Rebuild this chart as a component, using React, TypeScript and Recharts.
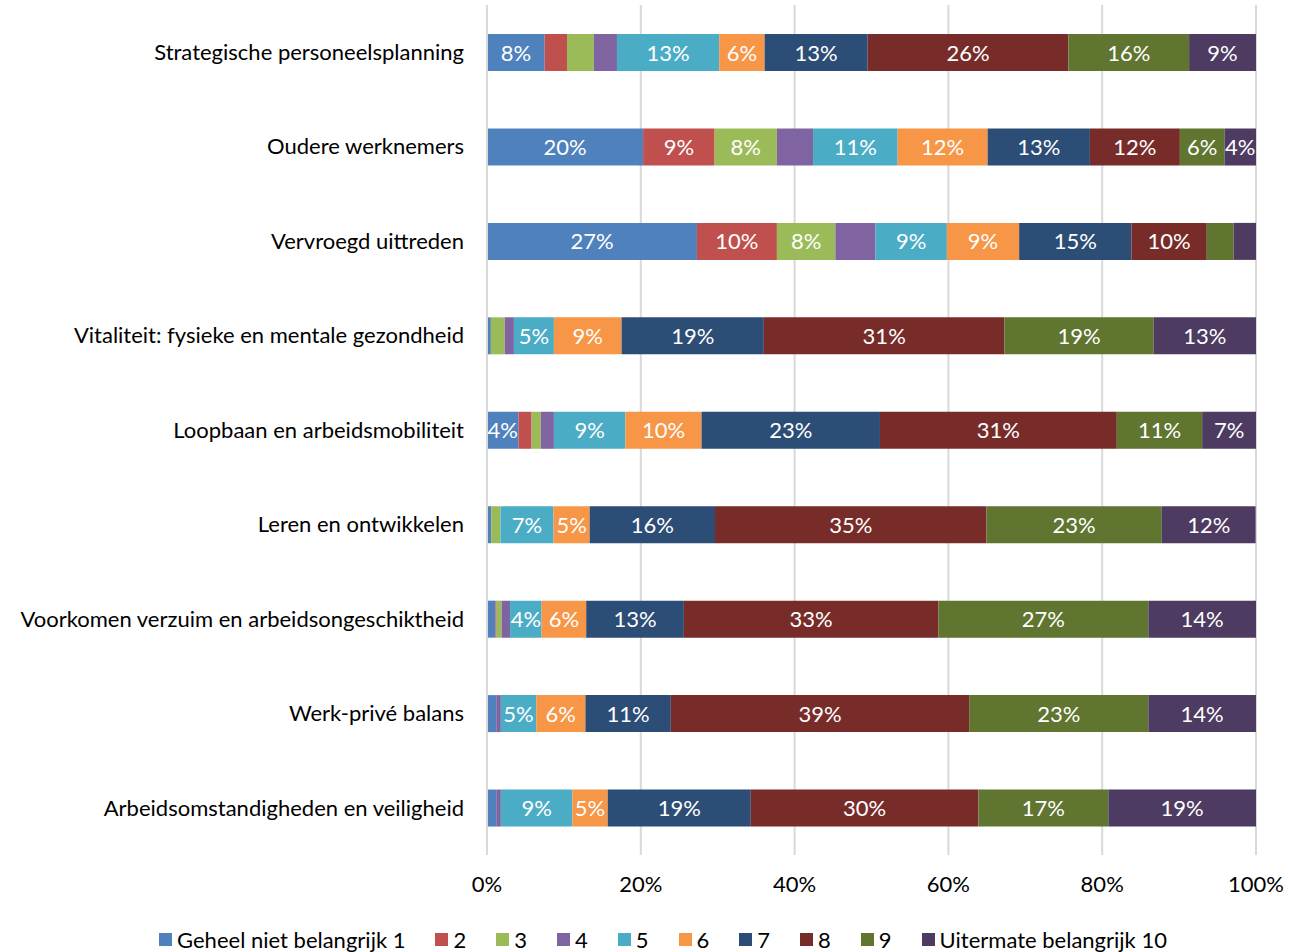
import React from 'react';
import {
  BarChart,
  Bar,
  XAxis,
  YAxis,
  CartesianGrid,
  Legend,
  LabelList,
} from 'recharts';

const categories = [
  'Strategische personeelsplanning',
  'Oudere werknemers',
  'Vervroegd uittreden',
  'Vitaliteit: fysieke en mentale gezondheid',
  'Loopbaan en arbeidsmobiliteit',
  'Leren en ontwikkelen',
  'Voorkomen verzuim en arbeidsongeschiktheid',
  'Werk-privé balans',
  'Arbeidsomstandigheden en veiligheid',
];

const seriesNames = [
  'Geheel niet belangrijk 1',
  '2',
  '3',
  '4',
  '5',
  '6',
  '7',
  '8',
  '9',
  'Uitermate belangrijk 10',
];

// percentages per category
const score1 = [7.5, 20.3, 27.3, 0.5, 4.1, 0.55, 1.1, 1.2, 1.2];
const score2 = [2.9, 9.3, 10.4, 0, 1.7, 0, 0.15, 0, 0];
const score3 = [3.5, 8.1, 7.6, 1.8, 1.2, 1.2, 0.65, 0, 0];
const score4 = [3.0, 4.7, 5.2, 1.2, 1.7, 0, 1.1, 0.6, 0.6];
const score5 = [13.3, 11.0, 9.3, 5.2, 9.3, 6.9, 4.1, 4.6, 9.3];
const score6 = [5.9, 11.7, 9.4, 8.8, 9.9, 4.7, 5.8, 6.4, 4.6];
const score7 = [13.4, 13.3, 14.6, 18.5, 23.2, 16.3, 12.7, 11.1, 18.6];
const score8 = [26.1, 11.7, 9.8, 31.3, 30.8, 35.3, 33.1, 38.8, 29.6];
const score9 = [15.7, 5.8, 3.5, 19.4, 11.1, 22.8, 27.3, 23.3, 16.9];
const score10 = [8.7, 4.1, 2.95, 13.3, 7.0, 12.2, 14.0, 14.0, 19.2];

const allScores = [score1, score2, score3, score4, score5, score6, score7, score8, score9, score10];

const xTicks = [0, 20, 40, 60, 80, 100];

// labels that the original leaves out although the segment is wide enough
const hiddenLabels = ['1:3', '2:3'];

const colors = [
  '#4F81BD',
  '#C0504D',
  '#9BBB59',
  '#8064A2',
  '#4BACC6',
  '#F79646',
  '#2C4D75',
  '#772C2A',
  '#5F7530',
  '#4D3B62',
];

const FONT = 'Lato, "Open Sans", sans-serif';
const FS = 22;

const chartData = categories.map((name, i) => {
  const row: Record<string, string | number> = { name };
  allScores.forEach((arr, s) => {
    row[`s${s}`] = arr[i];
  });
  return row;
});

function makeLabel(s: number) {
  return (props: any) => {
    const { x, y, width, height, index } = props;
    const v = allScores[s][index];
    if (v < 4 || hiddenLabels.includes(`${index}:${s}`)) return null;
    return (
      <text
        x={x + width / 2}
        y={y + height / 2}
        dy={8}
        textAnchor="middle"
        fill="#fff"
        fontSize={FS}
        fontFamily={FONT}
      >
        {`${Math.round(v)}%`}
      </text>
    );
  };
}

function LegendContent() {
  return (
    <div
      style={{
        display: 'flex',
        justifyContent: 'center',
        fontFamily: FONT,
        fontSize: FS,
        color: '#000',
        paddingTop: 21,
        marginLeft: 100,
      }}
    >
      {seriesNames.map((n, i) => (
        <div key={n} style={{ display: 'flex', alignItems: 'center', marginRight: 30 }}>
          <span
            style={{
              width: 13,
              height: 13,
              background: colors[i],
              display: 'inline-block',
              marginRight: 5,
            }}
          />
          <span>{n}</span>
        </div>
      ))}
    </div>
  );
}

export default function App() {
  return (
    <div style={{ position: 'absolute', left: 0, top: 0 }}>
      <BarChart
        width={1289}
        height={952}
        data={chartData}
        layout="vertical"
        margin={{ top: 5, right: 33, bottom: 0, left: 0 }}
        barSize={37}
      >
        <CartesianGrid horizontal={false} stroke="#D9D9D9" strokeWidth={2} />
        <XAxis
          type="number"
          domain={[0, 100]}
          ticks={xTicks}
          allowDataOverflow
          tickFormatter={(v) => `${v}%`}
          axisLine={false}
          tickLine={false}
          tickSize={0}
          tickMargin={21}
          height={50}
          tick={{ fill: '#000', fontSize: FS, fontFamily: FONT }}
        />
        <YAxis
          type="category"
          dataKey="name"
          width={487}
          axisLine={{ stroke: '#D9D9D9', strokeWidth: 2 }}
          tickLine={false}
          tickSize={0}
          tickMargin={23}
          tick={{ fill: '#000', fontSize: FS, fontFamily: FONT }}
        />
        <Legend verticalAlign="bottom" height={47} content={<LegendContent />} />
        {seriesNames.map((n, s) => (
          <Bar
            key={n}
            dataKey={`s${s}`}
            name={n}
            stackId="a"
            fill={colors[s]}
            isAnimationActive={false}
          >
            <LabelList dataKey={`s${s}`} content={makeLabel(s)} />
          </Bar>
        ))}
      </BarChart>
    </div>
  );
}
